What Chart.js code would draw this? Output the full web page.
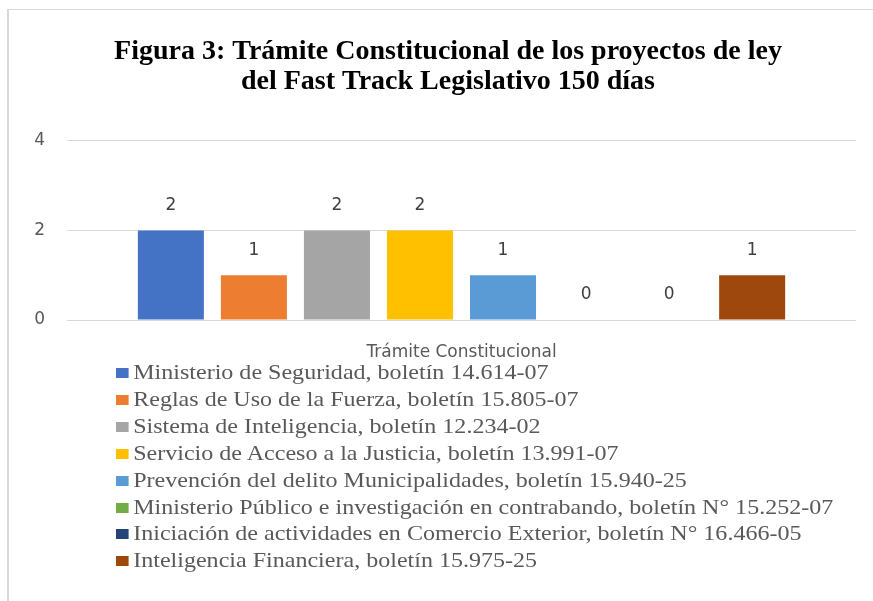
<!DOCTYPE html>
<html lang="es">
<head>
    <meta charset="UTF-8">
    <title>Figura 3</title>
    <script src="https://cdn.jsdelivr.net/npm/chart.js"></script>
    <style>
        html, body { margin: 0; background: #fff; overflow: hidden; }
        #frame {
            position: absolute; left: 7px; top: 9px; width: 1000px; height: 700px;
            border-top: 1px solid #d9d9d9; border-left: 2px solid #d9d9d9;
        }
        #wrap { position: absolute; left: 0; top: 0; width: 873px; height: 601px; }
        #legend {
            position: absolute; left: 116px; top: 359px;
            font-family: "Liberation Serif", "Times New Roman", serif;
            font-size: 21px; color: #595959; line-height: 26.9px;
            transform: scaleX(1.145); transform-origin: left top;
        }
        #legend div { white-space: nowrap; }
        #legend span.box {
            display: inline-block; width: 11px; height: 10px; margin-right: 4px;
            vertical-align: 1px;
        }
    </style>
</head>
<body>
    <div id="frame"></div>
    <div id="wrap">
        <canvas id="myChart" width="873" height="601"></canvas>
    </div>
    <div id="legend"></div>

    <script>
        // data
        const categories = ['Trámite Constitucional'];
        const seriesNames = [
            'Ministerio de Seguridad, boletín 14.614-07',
            'Reglas de Uso de la Fuerza, boletín 15.805-07',
            'Sistema de Inteligencia, boletín 12.234-02',
            'Servicio de Acceso a la Justicia, boletín 13.991-07',
            'Prevención del delito Municipalidades, boletín 15.940-25',
            'Ministerio Público e investigación en contrabando, boletín N° 15.252-07',
            'Iniciación de actividades en Comercio Exterior, boletín N° 16.466-05',
            'Inteligencia Financiera, boletín 15.975-25'
        ];
        const seriesValues = [2, 1, 2, 2, 1, 0, 0, 1];
        const seriesColors = ['#4472C4', '#ED7D31', '#A5A5A5', '#FFC000', '#5B9BD5', '#70AD47', '#264478', '#9E480E'];
        const yTicks = [0, 2, 4];

        const sansFont = '"DejaVu Sans", "Open Sans", sans-serif';

        // draws the value above each bar
        const valueLabels = {
            id: 'valueLabels',
            afterDatasetsDraw(chart) {
                const c = chart.ctx;
                c.save();
                c.font = '17px ' + sansFont;
                c.fillStyle = '#404040';
                c.textAlign = 'center';
                c.textBaseline = 'middle';
                chart.data.datasets.forEach((ds, i) => {
                    chart.getDatasetMeta(i).data.forEach((bar, j) => {
                        c.fillText(ds.data[j], bar.x, bar.y - 25);
                    });
                });
                c.restore();
            }
        };

        // title sits a bit right of the canvas centre in the original
        const shiftTitle = {
            id: 'shiftTitle',
            afterLayout(chart) {
                if (chart.titleBlock) chart.titleBlock.left += 20;
            }
        };

        const ctx = document.getElementById('myChart').getContext('2d');
        const chart = new Chart(ctx, {
            type: 'bar',
            data: {
                labels: categories,
                datasets: seriesNames.map((name, i) => ({
                    label: name,
                    data: [seriesValues[i]],
                    backgroundColor: seriesColors[i]
                }))
            },
            options: {
                responsive: false,
                animation: false,
                categoryPercentage: 0.842,
                barPercentage: 0.795,
                layout: { padding: { top: 37, left: 20, right: 17, bottom: 236 } },
                plugins: {
                    legend: { display: false },
                    tooltip: { enabled: false },
                    title: {
                        display: true,
                        text: ['Figura 3: Trámite Constitucional de los proyectos de ley', 'del Fast Track Legislativo 150 días'],
                        color: '#000',
                        font: { family: '"Liberation Serif", "Times New Roman", serif', size: 28, weight: 'bold', lineHeight: 1.07 },
                        padding: { top: 0, bottom: 44 }
                    }
                },
                scales: {
                    x: {
                        grid: { display: false },
                        border: { display: false },
                        ticks: { color: '#595959', font: { family: sansFont, size: 17 }, padding: 14 },
                        afterFit(scale) { scale.height = 45; }
                    },
                    y: {
                        min: 0,
                        max: 4,
                        afterBuildTicks(scale) { scale.ticks = yTicks.map(v => ({ value: v })); },
                        grid: { color: '#d9d9d9', lineWidth: 1, drawTicks: false },
                        border: { display: false },
                        ticks: { color: '#595959', font: { family: sansFont, size: 17 }, padding: 22 },
                        afterFit(scale) { scale.width = 47; }
                    }
                }
            },
            plugins: [valueLabels, shiftTitle]
        });

        // legend list below the chart
        const legend = document.getElementById('legend');
        seriesNames.forEach((name, i) => {
            const row = document.createElement('div');
            const box = document.createElement('span');
            box.className = 'box';
            box.style.background = seriesColors[i];
            row.appendChild(box);
            row.appendChild(document.createTextNode(name));
            legend.appendChild(row);
        });
    </script>
</body>
</html>
